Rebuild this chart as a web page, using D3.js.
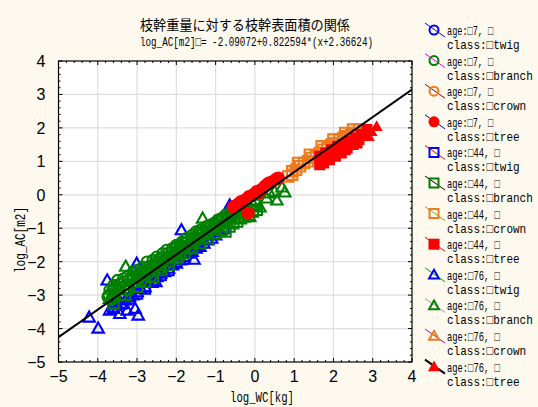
<!DOCTYPE html>
<html lang="ja">
<head>
  <meta charset="UTF-8">
  <script src="https://d3js.org/d3.v7.min.js"></script>
  <title>枝幹重量に対する枝幹表面積の関係</title>
  <style>
    body { margin: 0; background: #fdf9ee; }
    svg { display: block; }
    .grid line { stroke: #dedede; stroke-width: 1.2; }
    .tick-label { font-family: "Liberation Sans Narrow", "Liberation Sans", sans-serif; font-size: 16px; fill: #000; }
    .mono { font-family: "Liberation Mono", "DejaVu Sans Mono", monospace; fill: #000; }
  </style>
</head>
<body>
  <svg></svg>
  <script>
    const WIDTH = 538
    const HEIGHT = 407

    // values: [log_WC, log_AC]
    const twig7 = [[-3.5, -3.2], [-2.5, -2.4], [-1.5, -1.55]]
    const branch7 = [
      [-3.75, -3.05], [-3.7, -2.85], [-3.65, -3.15], [-3.6, -2.7], [-3.55, -2.95], [-3.5, -2.55],
      [-3.45, -2.8], [-3.4, -3.0], [-3.35, -2.5], [-3.3, -2.7], [-3.25, -2.45], [-3.2, -2.85],
      [-3.15, -2.55], [-3.1, -2.3], [-3.05, -2.6], [-3.0, -2.25], [-2.95, -2.5], [-2.9, -2.6],
      [-2.85, -2.15], [-2.8, -2.35], [-2.75, -2.0], [-2.7, -2.25], [-2.65, -2.45], [-2.6, -1.95],
      [-2.55, -2.15], [-2.5, -1.85], [-2.45, -2.05], [-2.4, -2.2], [-2.35, -1.75], [-2.3, -1.95],
      [-2.25, -1.65], [-2.2, -1.85], [-2.15, -2.0], [-2.1, -1.6], [-2.05, -1.75], [-2.0, -1.5],
      [-1.95, -1.7], [-1.9, -1.85], [-1.85, -1.4], [-1.8, -1.55], [-1.75, -1.3], [-1.7, -1.5],
      [-1.65, -1.6], [-1.6, -1.2], [-1.55, -1.35], [-1.5, -1.1], [-1.45, -1.3], [-1.4, -1.05],
      [-1.35, -1.2], [-1.3, -1.3], [-1.25, -0.95], [-1.2, -1.1], [-1.15, -0.9], [-1.1, -1.05],
      [-1.05, -0.85], [-1.0, -1.0], [-0.95, -0.75], [-0.9, -0.95], [-0.85, -0.7], [-0.8, -0.85],
      [-0.75, -0.6], [-0.7, -0.75], [-0.6, -0.6], [-0.5, -0.55], [-0.4, -0.45],
      [-3.72, -3.0], [-3.62, -2.85], [-3.52, -2.75], [-3.42, -2.65], [-3.32, -2.6], [-3.22, -2.55],
      [-3.12, -2.45], [-3.02, -2.4], [-2.92, -2.35], [-2.82, -2.25], [-2.72, -2.15], [-2.62, -2.1],
      [-2.52, -2.0], [-2.42, -1.9], [-2.32, -1.85], [-2.22, -1.75], [-2.12, -1.7], [-2.02, -1.6],
      [-1.92, -1.55], [-1.82, -1.45], [-1.72, -1.4], [-1.62, -1.3], [-1.52, -1.25], [-1.42, -1.15],
      [-1.32, -1.1], [-1.22, -1.0], [-1.12, -0.95], [-1.02, -0.85], [-0.92, -0.8], [-0.82, -0.75],
      [-0.72, -0.65], [-0.62, -0.5], [-0.52, -0.45], [-0.42, -0.55], [-0.32, -0.4],
      [-3.6, -3.1], [-3.3, -2.85], [-3.0, -2.6], [-2.7, -2.35], [-2.4, -2.1], [-2.1, -1.85],
      [-1.8, -1.6], [-1.5, -1.4], [-1.2, -1.15], [-0.9, -0.9], [-0.6, -0.65], [-0.3, -0.5],
      [-0.2, -0.35], [-0.1, -0.3], [0.0, -0.2]
    ]
    const crown7 = []
    const tree7 = [
      [-0.55, -0.36], [-0.45, -0.3], [-0.4, -0.25], [-0.35, -0.2], [-0.25, -0.15], [-0.15, -0.05],
      [-0.05, 0.0], [0.05, 0.1], [0.1, 0.05], [0.15, 0.15], [0.25, 0.25], [0.3, 0.3],
      [0.35, 0.35], [0.45, 0.4], [0.55, 0.48], [0.6, 0.5], [-0.17, -0.55]
    ]
    const twig44 = [
      [-3.6, -3.35], [-3.4, -3.25], [-3.2, -3.1], [-3.0, -2.95], [-2.8, -2.8], [-2.6, -2.6],
      [-2.4, -2.4], [-2.2, -2.25], [-2.0, -2.0], [-1.8, -1.9], [-1.6, -1.65], [-1.4, -1.5],
      [-1.2, -1.3], [-1.0, -1.15], [-0.8, -1.0]
    ]
    const branch44 = [
      [-3.6, -3.25], [-3.3, -3.0], [-3.0, -2.75], [-2.8, -2.6], [-2.6, -2.45], [-2.4, -2.25],
      [-2.2, -2.1], [-2.0, -1.9], [-1.9, -1.55], [-1.8, -1.75], [-1.6, -1.6], [-1.5, -1.3],
      [-1.4, -1.45], [-1.2, -1.3], [-1.1, -0.95], [-1.0, -1.15], [-0.85, -1.05], [-0.75, -1.1],
      [-0.65, -0.95], [-0.6, -0.7], [-0.55, -0.85], [-0.45, -0.8], [-0.4, -0.55], [-0.35, -0.7],
      [-0.25, -0.65], [-0.2, -0.45], [-0.15, -0.6], [-0.05, -0.5], [0.0, -0.3], [0.05, -0.45]
    ]
    const crown44 = [
      [0.85, 0.55], [0.95, 0.6], [0.95, 0.7], [1.05, 0.75], [1.1, 0.95], [1.15, 0.85], [1.25, 0.95],
      [1.35, 1.0], [1.4, 1.2], [1.45, 1.1], [1.55, 1.15], [1.65, 1.25], [1.7, 1.45], [1.75, 1.35],
      [1.85, 1.4], [1.95, 1.5], [2.0, 1.65], [2.05, 1.55], [2.15, 1.65], [2.25, 1.7], [2.3, 1.85],
      [2.35, 1.75], [2.45, 1.8], [2.5, 1.95], [2.55, 1.85], [2.65, 1.95]
    ]
    const tree44 = [
      [1.65, 0.9], [1.65, 1.15], [1.7, 1.05], [1.75, 0.95], [1.8, 1.25], [1.85, 1.1], [1.9, 1.05],
      [1.95, 1.35], [2.0, 1.25], [2.05, 1.15], [2.1, 1.45], [2.15, 1.3], [2.2, 1.25], [2.25, 1.5],
      [2.3, 1.35], [2.35, 1.4], [2.4, 1.6], [2.5, 1.5], [2.55, 1.7], [2.6, 1.55], [2.65, 1.65],
      [2.7, 1.8], [2.8, 1.8], [2.85, 1.95]
    ]
    const twig76 = [
      [-4.22, -3.66], [-3.99, -3.99], [-3.76, -2.55], [-3.44, -3.55], [-3.25, -3.45], [-3.05, -3.4],
      [-2.97, -3.6], [-3.01, -2.05], [-1.55, -1.93], [-1.87, -1.05], [-0.64, -0.31], [-2.52, -2.6],
      [-3.7, -3.45], [-3.6, -3.4], [-3.5, -3.3], [-3.4, -3.25], [-3.3, -3.15], [-3.2, -3.05],
      [-3.1, -3.0], [-3.0, -2.9], [-2.9, -2.8], [-2.8, -2.75], [-2.7, -2.6], [-2.6, -2.55],
      [-2.5, -2.45], [-2.4, -2.35], [-2.3, -2.3], [-2.2, -2.2], [-2.1, -2.1], [-2.0, -2.05],
      [-1.9, -1.95], [-1.8, -1.85], [-1.7, -1.75], [-1.6, -1.7], [-1.5, -1.6], [-1.4, -1.55],
      [-1.3, -1.45], [-1.2, -1.35], [-1.1, -1.3], [-1.0, -1.2], [-0.9, -1.1]
    ]
    const branch76 = [
      [-3.29, -2.14], [-1.33, -0.7], [-3.7, -3.1], [-3.5, -2.75], [-3.0, -2.45], [-2.7, -2.2],
      [-2.5, -2.0], [-2.0, -1.7], [-1.7, -1.4], [-1.5, -1.2], [-1.0, -0.85], [-0.5, -0.45],
      [-0.13, -0.66], [0.13, -0.37], [0.38, 0.05], [0.56, -0.16], [0.69, 0.23], [0.76, 0.08],
      [0.3, -0.1], [0.5, 0.1]
    ]
    const crown76 = []
    const tree76 = [[2.65, 1.75], [2.75, 1.8], [2.9, 1.75], [2.85, 1.95], [2.97, 1.9], [3.1, 2.05]]

    const xTicks = [-5, -4, -3, -2, -1, 0, 1, 2, 3, 4]
    const yTicks = [-5, -4, -3, -2, -1, 0, 1, 2, 3, 4]
    const fit = { a: -2.09072, b: 0.822594, c: 2.36624 }

    const blue = '#0000ff', green = '#008000', orange = '#ee7a1c', red = '#ff0000'
    const series = [
      { data: twig7, age: '□7', cls: '□twig', shape: 'circle', color: blue, fill: false, leg: '#0000ff' },
      { data: branch7, age: '□7', cls: '□branch', shape: 'circle', color: green, fill: false, leg: '#ff00ff' },
      { data: crown7, age: '□7', cls: '□crown', shape: 'circle', color: orange, fill: false, leg: '#8b0000' },
      { data: tree7, age: '□7', cls: '□tree', shape: 'circle', color: red, fill: true, leg: '#0000a0' },
      { data: twig44, age: '□44', cls: '□twig', shape: 'square', color: blue, fill: false, leg: '#ff0000' },
      { data: branch44, age: '□44', cls: '□branch', shape: 'square', color: green, fill: false, leg: '#000000' },
      { data: crown44, age: '□44', cls: '□crown', shape: 'square', color: orange, fill: false, leg: '#a0a000' },
      { data: tree44, age: '□44', cls: '□tree', shape: 'square', color: red, fill: true, leg: '#ff0000' },
      { data: twig76, age: '□76', cls: '□twig', shape: 'triangle', color: blue, fill: false, leg: '#00a000' },
      { data: branch76, age: '□76', cls: '□branch', shape: 'triangle', color: green, fill: false, leg: '#a0a0a0' },
      { data: crown76, age: '□76', cls: '□crown', shape: 'triangle', color: orange, fill: false, leg: '#a000c0' },
      { data: tree76, age: '□76', cls: '□tree', shape: 'triangle', color: red, fill: true, leg: '#000000' }
    ]
    // drawing order so the picture stacks the same way
    const drawOrder = [8, 0, 4, 9, 5, 1, 2, 10, 6, 7, 11, 3]

    const margin = { left: 58.5, right: 126, top: 61, bottom: 45 }
    const svg = d3.select('svg').attr('width', WIDTH).attr('height', HEIGHT)

    const x = d3.scaleLinear().domain([-5, 4]).range([margin.left, WIDTH - margin.right])
    const y = d3.scaleLinear().domain([-5, 4]).range([HEIGHT - margin.bottom, margin.top])

    svg.append('rect')
      .attr('x', x(-5)).attr('y', y(4))
      .attr('width', x(4) - x(-5)).attr('height', y(-5) - y(4))
      .attr('fill', '#fff')

    const grid = svg.append('g').attr('class', 'grid')
    grid.selectAll('.gx').data(xTicks.slice(1, -1)).enter().append('line')
      .attr('x1', (d) => x(d)).attr('x2', (d) => x(d))
      .attr('y1', y(-5)).attr('y2', y(4))
    grid.selectAll('.gy').data(yTicks.slice(1, -1)).enter().append('line')
      .attr('y1', (d) => y(d)).attr('y2', (d) => y(d))
      .attr('x1', x(-5)).attr('x2', x(4))

    function shapePath (shape, s) {
      if (shape === 'circle') return `M${-s},0a${s},${s} 0 1,0 ${2 * s},0a${s},${s} 0 1,0 ${-2 * s},0Z`
      if (shape === 'square') return `M${-s},${-s}H${s}V${s}H${-s}Z`
      return `M0,${-s * 1.1}L${s * 1.1},${s * 0.85}L${-s * 1.1},${s * 0.85}Z`
    }

    const clipId = 'plotclip'
    svg.append('clipPath').attr('id', clipId).append('rect')
      .attr('x', x(-5)).attr('y', y(4))
      .attr('width', x(4) - x(-5)).attr('height', y(-5) - y(4))

    const pts = svg.append('g').attr('clip-path', `url(#${clipId})`)
    drawOrder.forEach((i) => {
      const s = series[i]
      const size = s.fill ? (s.shape === 'circle' ? 6.5 : 5.5) : 5.2
      pts.append('g').selectAll('path').data(s.data).enter().append('path')
        .attr('transform', (d) => `translate(${x(d[0])},${y(d[1])})`)
        .attr('d', shapePath(s.shape, size))
        .attr('fill', s.fill ? s.color : 'none')
        .attr('stroke', s.color)
        .attr('stroke-width', s.fill ? 0 : 2.1)
    })

    // fitted line across the whole x range
    const fitY = (v) => fit.a + fit.b * (v + fit.c)
    pts.append('line')
      .attr('x1', x(-5)).attr('y1', y(fitY(-5)))
      .attr('x2', x(4)).attr('y2', y(fitY(4)))
      .attr('stroke', '#000').attr('stroke-width', 2)

    // ticks pointing inward on all four sides
    const minor = d3.range(-5, 4.001, 0.2).map((v) => Math.round(v * 10) / 10)
    const tk = svg.append('g').attr('stroke', '#000').attr('stroke-width', 1)
    minor.forEach((v) => {
      const len = Number.isInteger(v) ? 4 : 2
      tk.append('line').attr('x1', x(v)).attr('x2', x(v)).attr('y1', y(-5)).attr('y2', y(-5) - len)
      tk.append('line').attr('x1', x(v)).attr('x2', x(v)).attr('y1', y(4)).attr('y2', y(4) + len)
      tk.append('line').attr('y1', y(v)).attr('y2', y(v)).attr('x1', x(-5)).attr('x2', x(-5) + len)
      tk.append('line').attr('y1', y(v)).attr('y2', y(v)).attr('x1', x(4)).attr('x2', x(4) - len)
    })

    svg.append('rect')
      .attr('x', x(-5)).attr('y', y(4))
      .attr('width', x(4) - x(-5)).attr('height', y(-5) - y(4))
      .attr('fill', 'none').attr('stroke', '#000').attr('stroke-width', 1.2)

    const fmt = (d) => (d < 0 ? '\u2212' + Math.abs(d) : String(d))
    svg.append('g').selectAll('text').data(xTicks).enter().append('text')
      .attr('class', 'tick-label')
      .attr('x', (d) => x(d)).attr('y', y(-5) + 20)
      .attr('text-anchor', 'middle')
      .text(fmt)
    svg.append('g').selectAll('text').data(yTicks).enter().append('text')
      .attr('class', 'tick-label')
      .attr('x', x(-5) - 13).attr('y', (d) => y(d) + 6)
      .attr('text-anchor', 'end')
      .text(fmt)

    svg.append('text').attr('class', 'mono')
      .attr('x', 262).attr('y', 402).attr('text-anchor', 'middle')
      .attr('font-size', 15).attr('textLength', 64).attr('lengthAdjust', 'spacingAndGlyphs')
      .text('log_WC[kg]')
    svg.append('text').attr('class', 'mono')
      .attr('transform', 'translate(25,240) rotate(-90)').attr('text-anchor', 'middle')
      .attr('font-size', 15).attr('textLength', 66).attr('lengthAdjust', 'spacingAndGlyphs')
      .text('log_AC[m2]')

    svg.append('text')
      .attr('x', 245).attr('y', 30).attr('text-anchor', 'middle')
      .attr('font-family', '"Noto Sans CJK JP", sans-serif').attr('font-size', 14)
      .attr('textLength', 210).attr('lengthAdjust', 'spacingAndGlyphs')
      .text('枝幹重量に対する枝幹表面積の関係')
    svg.append('text').attr('class', 'mono')
      .attr('x', 140).attr('y', 46).attr('font-size', 13)
      .attr('textLength', 233).attr('lengthAdjust', 'spacingAndGlyphs')
      .text(`log_AC[m2]□= ${fit.a}+${fit.b}*(x+${fit.c})`)

    // legend
    const legend = svg.append('g')
    series.forEach((s, i) => {
      const cy = 30 + i * 30.6
      const g = legend.append('g').attr('transform', `translate(434,${cy})`)
      g.append('line')
        .attr('x1', -9).attr('y1', -7).attr('x2', 11).attr('y2', 7)
        .attr('stroke', s.leg).attr('stroke-width', i === 11 ? 2 : 1)
      g.append('path')
        .attr('d', shapePath(s.shape, s.fill ? 5.5 : 4.5))
        .attr('fill', s.fill ? s.color : 'none')
        .attr('stroke', s.color).attr('stroke-width', s.fill ? 0 : 2)
      g.append('text').attr('class', 'mono')
        .attr('x', 13).attr('y', 5).attr('font-size', 13)
        .attr('textLength', s.age.length * 6.6 + 33).attr('lengthAdjust', 'spacingAndGlyphs')
        .text(`age:${s.age}, □`)
      g.append('text').attr('class', 'mono')
        .attr('x', 13).attr('y', 19).attr('font-size', 13)
        .attr('textLength', (6 + s.cls.length) * 6.6).attr('lengthAdjust', 'spacingAndGlyphs')
        .text(`class:${s.cls}`)
    })
  </script>
</body>
</html>
